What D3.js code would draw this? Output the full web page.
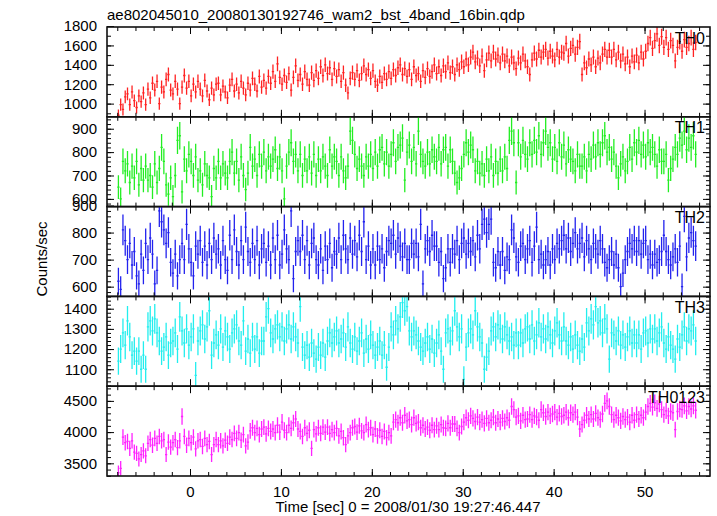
<!DOCTYPE html>
<html><head><meta charset="utf-8">
<script src="https://cdn.jsdelivr.net/npm/d3@7"></script>
<style>html,body{margin:0;padding:0;background:#fff;} svg{display:block;}</style>
</head><body><svg id="chart" width="717" height="516"></svg>
<script>
const title = "ae802045010_20080130192746_wam2_bst_4band_16bin.qdp";
const xLabel = "Time [sec] 0 = 2008/01/30 19:27:46.447";
const yLabel = "Counts/sec";
const panelNames = ["TH0", "TH1", "TH2", "TH3", "TH0123"];
const panelColors = ["#ff2222", "#22ee22", "#2222ee", "#22eeee", "#ff22ff"];
const binStart = -7.875, binWidth = 0.25;   // centre of the first 0.25 s bin

const th0 = [
880,990,940,1070, 1100,990,1120,1030, 960,1080,1020,1110, 990,1150,1060,1210,
1140,1230,1000,1170, 1120,1250,1300,1140, 1100,1230,1150,1000, 1170,1290,1160,1230,
1080,1200,1120,1230, 1150,1080,1240,1130, 1040,1160,1090,1200, 1210,1090,1180,1120,
1060,1190,1250,1130, 1200,1110,1230,1160, 1090,1210,1140,1260, 1200,1130,1280,1170,
1240,1160,1280,1210, 1330,1230,1410,1270, 1200,1290,1220,1310, 1140,1270,1390,1240,
1300,1200,1330,1250, 1190,1320,1240,1340, 1260,1380,1290,1400, 1310,1370,1250,1360,
1280,1350,1230,1320, 1190,1110,1260,1320, 1250,1340,1240,1310, 1390,1300,1350,1260,
1340,1230,1190,1280, 1220,1310,1250,1330, 1260,1350,1290,1370, 1400,1300,1360,1280,
1350,1250,1380,1290, 1310,1230,1340,1270, 1360,1280,1330,1400, 1310,1380,1290,1390,
1330,1420,1320,1380, 1300,1400,1350,1430, 1380,1460,1400,1480, 1530,1430,1470,1390,
1490,1340,1450,1520, 1440,1530,1460,1500, 1420,1510,1440,1490, 1390,1480,1420,1360,
1470,1420,1510,1440, 1380,1300,1450,1520, 1460,1550,1480,1530, 1560,1470,1540,1490,
1450,1560,1480,1530, 1520,1620,1490,1570, 1600,1510,1580,1640, 1300,1420,1370,1460,
1400,1480,1380,1470, 1420,1510,1560,1480, 1550,1480,1560,1450, 1530,1440,1510,1410,
1480,1380,1490,1430, 1500,1420,1530,1460, 1540,1620,1680,1570, 1650,1720,1600,1690,
1580,1680,1560,1650, 1600,1440,1580,1640, 1540,1660,1580,1620, 1680,1560,1630
];
const th1 = [
650,600,760,720, 750,670,740,690, 760,660,730,680, 740,680,700,650,
750,670,730,820, 760,660,620,690, 610,700,850,870, 630,770,720,790,
760,700,780,680, 720,660,750,700, 690,610,730,690, 760,690,750,710,
690,760,800,710, 760,680,780,700, 640,710,820,740, 770,700,790,740,
800,720,780,740, 770,810,730,780, 720,600,740,800, 840,760,790,720,
790,700,770,720, 780,710,790,700, 770,720,780,740, 700,810,740,780,
760,700,780,720, 690,740,890,850, 790,730,770,740, 700,780,740,790,
730,800,740,810, 820,750,800,740, 790,840,760,820, 830,860,680,800,
830,760,820,750, 890,790,760,740, 800,750,810,780, 760,820,750,810,
820,740,810,760, 710,670,690,730, 790,840,800,830, 810,720,760,710,
750,700,770,720, 780,700,760,710, 770,720,780,730, 850,890,840,670,
840,780,850,790, 770,840,790,850, 800,870,790,840, 890,820,840,770,
820,760,840,780, 830,750,810,770, 760,720,790,740, 740,780,720,790,
770,830,780,840, 790,840,870,800, 820,770,800,740, 690,750,780,720,
760,820,770,840, 800,850,790,830, 780,840,800,820, 790,740,810,760,
760,790,680,730, 770,820,790,860, 830,890,810,860, 820,870,790
];
const th2 = [
620,590,810,770, 700,760,680,730, 640,610,720,660, 760,700,780,720,
610,660,880,840, 810,760,800,690, 650,720,640,700, 760,700,830,740,
690,640,750,720, 770,690,750,680, 760,700,780,720, 740,680,770,700,
660,790,700,810, 730,680,770,700, 820,730,690,760, 700,770,680,740,
760,690,750,680, 780,700,790,680, 720,810,740,700, 880,630,730,770,
730,790,700,770, 680,760,780,700, 680,740,660,750, 700,760,670,730,
720,780,700,790, 740,700,780,720, 770,710,790,730, 840,700,750,680,
740,680,750,700, 740,670,730,770, 760,790,720,780, 750,710,760,700,
700,760,720,760, 710,830,610,740, 770,730,790,750, 750,690,730,630,
670,740,690,740, 720,770,700,760, 780,720,760,730, 770,710,790,740,
830,850,800,830, 850,690,670,730, 680,730,660,710, 700,810,780,710,
690,750,760,700, 740,770,690,750, 820,700,720,680, 700,730,680,740,
700,760,740,770, 790,740,780,730, 760,800,740,760, 780,710,770,740,
700,760,740,720, 770,740,690,670, 700,730,680,720, 670,600,650,700,
730,760,740,770, 730,770,720,760, 770,700,720,680, 720,690,700,730,
790,730,700,680, 710,740,690,750, 600,860,710,780, 800,770,750
];
const th3 = [
1140,1200,1280,1220, 1340,1260,1170,1190, 1140,1190,1100,1170, 1100,1310,1340,1290,
1350,1280,1240,1190, 1210,1260,1170,1230, 1240,1280,1200,1360, 1290,1230,1300,1220,
1260,1300,1070,1240, 1290,1320,1250,1310, 1390,1170,1230,1270, 1220,1300,1210,1290,
1260,1200,1280,1300, 1320,1240,1220,1340, 1190,1250,1180,1260, 1200,1260,1180,1240,
1240,1360,1400,1280, 1250,1300,1320,1260, 1310,1240,1300,1320, 1250,1310,1260,1230,
1410,1210,1170,1220, 1160,1230,1180,1150, 1210,1170,1230,1160, 1240,1280,1230,1260,
1290,1230,1250,1280, 1210,1310,1230,1200, 1260,1190,1240,1280, 1180,1250,1200,1270,
1220,1170,1210,1240, 1170,1220,1110,1210, 1310,1270,1340,1300, 1360,1430,1390,1410,
1290,1260,1290,1270, 1240,1210,1190,1230, 1260,1200,1250,1180, 1230,1270,1190,1100,
1280,1300,1240,1290, 1390,1310,1260,1300, 1050,1210,1280,1300, 1270,1390,1310,1260,
1230,1100,1160,1190, 1290,1310,1260,1320, 1300,1250,1310,1270, 1240,1260,1220,1280,
1220,1280,1230,1300, 1310,1250,1320,1240, 1270,1330,1260,1300, 1250,1310,1270,1230,
1290,1330,1270,1240, 1310,1240,1220,1260, 1200,1270,1220,1190, 1250,1210,1330,1290,
1350,1320,1410,1330, 1340,1280,1350,1300, 1150,1280,1270,1240, 1290,1220,1270,1210,
1260,1290,1230,1270, 1230,1270,1200,1280, 1290,1230,1300,1250, 1300,1240,1280,1310,
1230,1200,1260,1220, 1200,1150,1250,1210, 1270,1310,1240,1300, 1290,1320,1240
];
const th0123 = [
3350,3420,3920,3830, 3850,3740,3860,3680, 3660,3570,3640,3700, 3620,3820,3880,3790,
3900,3820,3930,3860, 3880,3640,3840,3760, 3830,3880,3750,3860, 4250,3930,3790,3900,
3830,3920,3730,3860, 3880,3770,3900,3800, 3850,3640,3800,3880, 3800,3860,3780,3870,
3820,3920,3880,3980, 3900,3990,3870,3960, 3780,3840,4020,4070, 3990,4060,3960,4050,
4080,3970,4060,4010, 4050,3990,4110,4000, 4160,4030,3990,4110, 4060,4150,4210,4050,
4010,3930,4070,3980, 4030,3740,4040,3970, 4070,3980,4080,4000, 4080,3980,4040,3990,
4060,3940,4010,3910, 3800,3940,3990,4070, 4090,4000,4100,4020, 3990,4120,4040,4070,
3960,4050,3940,4030, 3930,4010,3910,3990, 3940,4160,4200,4150, 4230,4150,4270,4180,
4200,4120,4230,4140, 4160,4070,4110,4050, 4080,4030,4110,4040, 4100,4040,4120,4070,
4060,4140,4070,4130, 4130,4060,3990,4090, 4160,4230,4190,4260, 4220,4170,4240,4160,
4200,4140,4220,4150, 4190,4240,4150,4210, 4160,4220,4170,4230, 4190,4410,4360,4240,
4260,4180,4270,4200, 4210,4280,4200,4260, 4240,4190,4360,4310, 4250,4320,4260,4290,
4320,4240,4300,4250, 4270,4320,4230,4310, 4280,4320,4240,4050, 4120,4190,4270,4210,
4280,4210,4300,4230, 4200,4290,4460,4500, 4410,4280,4200,4270, 4230,4180,4250,4200,
4240,4160,4270,4190, 4280,4210,4270,4230, 4320,4410,4460,4400, 4470,4380,4450,4360,
4280,4340,4260,4330, 4310,4040,4330,4370, 4360,4420,4340,4410, 4370,4420,4350
];
const seriesValues = [th0, th1, th2, th3, th0123];

const xDomain = [-9.13, 57.2];
const xMajorTicks = [0, 10, 20, 30, 40, 50];
const xMinorTicks = d3.range(-8, 57, 2);
const yDomains = [[864, 1790], [567, 951], [564, 896], [1016, 1461], [3297, 4735]];
const yMajorTicks = [[1000, 1200, 1400, 1600, 1800], [600, 700, 800, 900], [600, 700, 800, 900], [1100, 1200, 1300, 1400], [3500, 4000, 4500]];
const yMinorStep = [100, 20, 20, 20, 100];

// ---- layout ----
const W = 717, H = 516;
const L = 107, R = 710, TOP = 27, BOT = 476;
const nP = panelNames.length;
const pH = (BOT - TOP) / nP;
const FONT = "'Liberation Sans', Arial, Helvetica, sans-serif";

const svg = d3.select("#chart");
svg.append("rect").attr("width", W).attr("height", H).attr("fill", "#fff");

const x = d3.scaleLinear().domain(xDomain).range([L, R]);

svg.append("text").attr("x", 107).attr("y", 20)
  .attr("font-family", FONT).attr("font-size", 15).attr("fill", "#000").text(title);

const defs = svg.append("defs");

panelNames.forEach((name, i) => {
  const y0 = TOP + i * pH, y1 = y0 + pH;
  const y = d3.scaleLinear().domain(yDomains[i]).range([y1, y0]);
  const g = svg.append("g");

  defs.append("clipPath").attr("id", "clip" + i)
    .append("rect").attr("x", L).attr("y", y0).attr("width", R - L).attr("height", pH);

  const data = seriesValues[i].map((v, k) => ({ t: binStart + k * binWidth, v: v, e: 2 * Math.sqrt(v) }));
  const dg = g.append("g").attr("clip-path", `url(#clip${i})`)
    .attr("stroke", panelColors[i]).attr("stroke-width", 1.3);
  dg.selectAll("line.v").data(data).join("line").attr("class", "v")
    .attr("x1", d => x(d.t)).attr("x2", d => x(d.t))
    .attr("y1", d => y(d.v - d.e)).attr("y2", d => y(d.v + d.e));
  dg.selectAll("line.h").data(data).join("line").attr("class", "h")
    .attr("x1", d => x(d.t - binWidth / 2)).attr("x2", d => x(d.t + binWidth / 2))
    .attr("y1", d => y(d.v)).attr("y2", d => y(d.v));

  const d0 = yDomains[i][0], d1 = yDomains[i][1], st = yMinorStep[i];
  const minor = d3.range(Math.ceil(d0 / st) * st, d1 + 1e-9, st);
  const styleAxis = sel => {
    sel.select(".domain").remove();
    sel.selectAll("line").attr("stroke", "#000").attr("stroke-width", 1);
    sel.selectAll("text").attr("font-family", FONT).attr("font-size", 15).attr("fill", "#000");
  };
  g.append("g").attr("transform", `translate(${L},0)`)
    .call(d3.axisLeft(y).tickValues(minor).tickSize(-4).tickFormat("")).call(styleAxis);
  g.append("g").attr("transform", `translate(${L},0)`)
    .call(d3.axisLeft(y).tickValues(yMajorTicks[i]).tickSize(-7).tickPadding(10).tickFormat(d3.format("d"))).call(styleAxis);
  g.append("g").attr("transform", `translate(${R},0)`)
    .call(d3.axisRight(y).tickValues(minor).tickSize(-4).tickFormat("")).call(styleAxis);
  g.append("g").attr("transform", `translate(${R},0)`)
    .call(d3.axisRight(y).tickValues(yMajorTicks[i].filter(v => v <= d1 && v >= d0)).tickSize(-7).tickFormat("")).call(styleAxis);

  g.append("g").attr("transform", `translate(0,${y0})`)
    .call(d3.axisTop(x).tickValues(xMinorTicks).tickSize(-4).tickFormat("")).call(styleAxis);
  g.append("g").attr("transform", `translate(0,${y0})`)
    .call(d3.axisTop(x).tickValues(xMajorTicks).tickSize(-7).tickFormat("")).call(styleAxis);
  g.append("g").attr("transform", `translate(0,${y1})`)
    .call(d3.axisBottom(x).tickValues(xMinorTicks).tickSize(-4).tickFormat("")).call(styleAxis);
  const bx = g.append("g").attr("transform", `translate(0,${y1})`)
    .call(d3.axisBottom(x).tickValues(xMajorTicks).tickSize(-7).tickPadding(10)
      .tickFormat(i === nP - 1 ? d3.format("d") : "")).call(styleAxis);
  bx.selectAll("text").attr("dy", "0.71em");

  g.append("rect").attr("x", L).attr("y", y0).attr("width", R - L).attr("height", pH)
    .attr("fill", "none").attr("stroke", "#111").attr("stroke-width", 1.6);

  g.append("text").attr("x", 705).attr("y", y0 + 16.5).attr("text-anchor", "end")
    .attr("font-family", FONT).attr("font-size", 16).attr("fill", "#000").text(name);
});

svg.append("text").attr("x", 408).attr("y", 512).attr("text-anchor", "middle")
  .attr("font-family", FONT).attr("font-size", 15).attr("fill", "#000").text(xLabel);
svg.append("text").attr("transform", "translate(46.5,259) rotate(-90)").attr("text-anchor", "middle")
  .attr("font-family", FONT).attr("font-size", 15).attr("fill", "#000").text(yLabel);
</script></body></html>
